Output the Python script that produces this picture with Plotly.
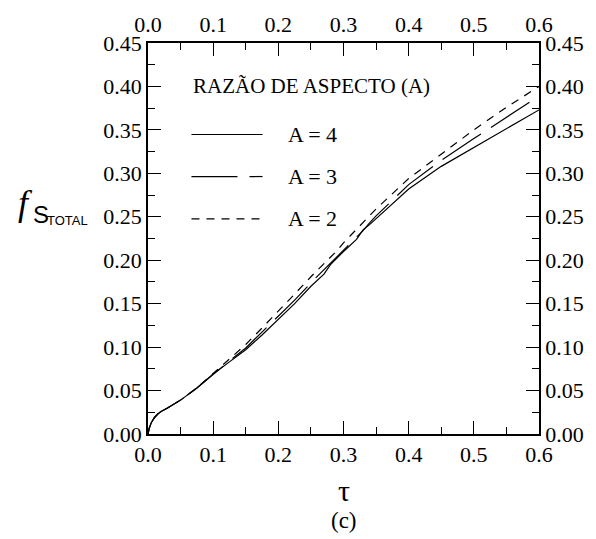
import plotly.graph_objects as go

tau = [0, 0.002, 0.005, 0.01, 0.015, 0.02, 0.03, 0.05, 0.075, 0.1, 0.125, 0.15,
       0.175, 0.2, 0.225, 0.25, 0.27, 0.28, 0.29, 0.3, 0.32, 0.33, 0.34, 0.35,
       0.4, 0.45, 0.5, 0.55, 0.6]

fs_a4 = [0, 0.007, 0.013, 0.019, 0.023, 0.026, 0.030, 0.039, 0.053, 0.069, 0.083, 0.097,
         0.114, 0.132, 0.150, 0.170, 0.184, 0.195, 0.203, 0.210, 0.224, 0.235, 0.241, 0.248,
         0.282, 0.308, 0.330, 0.352, 0.373]
fs_a3 = [0, 0.007, 0.013, 0.019, 0.023, 0.026, 0.030, 0.039, 0.053, 0.069, 0.084, 0.099,
         0.117, 0.135, 0.154, 0.174, 0.189, 0.196, 0.204, 0.212, 0.226, 0.234, 0.243, 0.251,
         0.287, 0.315, 0.340, 0.364, 0.389]
fs_a2 = [0, 0.007, 0.013, 0.019, 0.023, 0.026, 0.030, 0.039, 0.053, 0.070, 0.086, 0.103,
         0.122, 0.141, 0.161, 0.181, 0.196, 0.203, 0.211, 0.220, 0.236, 0.243, 0.251, 0.259,
         0.294, 0.322, 0.350, 0.376, 0.400]

series_names = ["A = 4", "A = 3", "A = 2"]
series_values = [fs_a4, fs_a3, fs_a2]
dashes = ["solid", "46px,12px", "8px,7px"]

x_ticks = [0.0, 0.1, 0.2, 0.3, 0.4, 0.5, 0.6]
x_ticklabels = ["0.0", "0.1", "0.2", "0.3", "0.4", "0.5", "0.6"]
y_ticks = [0.0, 0.05, 0.10, 0.15, 0.20, 0.25, 0.30, 0.35, 0.40, 0.45]
y_ticklabels = ["0.00", "0.05", "0.10", "0.15", "0.20", "0.25", "0.30", "0.35", "0.40", "0.45"]

legend_title = "RAZÃO DE ASPECTO (A)"

FONT = "Liberation Serif"
SANS = "Liberation Sans"

fig = go.Figure()
for name, vals, d in zip(series_names, series_values, dashes):
    fig.add_trace(go.Scatter(x=tau, y=vals, mode="lines", name=name,
                             line=dict(color="black", width=1.2, dash=d),
                             showlegend=False))
# empty trace to create the mirrored top/right axes
fig.add_trace(go.Scatter(x=[None], y=[None], xaxis="x2", yaxis="y2",
                         showlegend=False, hoverinfo="skip"))

common_x = dict(range=[0, 0.6], tickvals=x_ticks, ticktext=x_ticklabels,
                ticks="inside", ticklen=13, tickwidth=1.3, tickcolor="black",
                showline=True, linecolor="black", linewidth=1.6,
                showgrid=False, zeroline=False,
                tickfont=dict(family=FONT, size=22, color="black"),
                minor=dict(dtick=0.05, tick0=0, ticks="inside", ticklen=7,
                           tickwidth=1.3, tickcolor="black", showgrid=False))
common_y = dict(range=[0, 0.45], tickvals=y_ticks, ticktext=y_ticklabels,
                ticks="inside", ticklen=13, tickwidth=1.3, tickcolor="black",
                showline=True, linecolor="black", linewidth=1.6,
                showgrid=False, zeroline=False,
                tickfont=dict(family=FONT, size=22, color="black"),
                minor=dict(dtick=0.025, tick0=0, ticks="inside", ticklen=7,
                           tickwidth=1.3, tickcolor="black", showgrid=False))

fig.update_layout(
    width=596, height=539,
    margin=dict(l=148, r=52, t=38, b=105),
    paper_bgcolor="white", plot_bgcolor="white",
    font=dict(family=FONT, color="black"),
    xaxis=dict(**common_x, side="bottom"),
    xaxis2=dict(**common_x, side="top", overlaying="x", matches="x"),
    yaxis=dict(**common_y, side="left"),
    yaxis2=dict(**common_y, side="right", overlaying="y", matches="y"),
)

# legend drawn inside the plot
legend_rows_y = [0.3447, 0.2963, 0.2477]
for name, d, yy in zip(series_names, dashes, legend_rows_y):
    fig.add_shape(type="line", xref="x", yref="y", x0=0.0667, x1=0.1758, y0=yy, y1=yy,
                  line=dict(color="black", width=1.2, dash=d))
    fig.add_annotation(x=0.212, y=yy, xref="x", yref="y", text=name, showarrow=False,
                       xanchor="left", yanchor="middle",
                       font=dict(family=FONT, size=22, color="black"))
fig.add_annotation(x=0.0667, y=0.400, xref="x", yref="y", text=legend_title, showarrow=False,
                   xanchor="left", yanchor="middle",
                   font=dict(family=FONT, size=21, color="black"))


def px_to_paper(px, py):
    return (px - 148) / 396, (434 - py) / 396


# y-axis title f_S_TOTAL
fx, fy = px_to_paper(24, 200)
fig.add_annotation(x=fx, y=fy, xref="paper", yref="paper", text="<i>f</i>", showarrow=False,
                   xanchor="center", yanchor="middle",
                   font=dict(family=FONT, size=36, color="black"))
sx, sy = px_to_paper(29, 212)
fig.add_annotation(x=sx, y=sy, xref="paper", yref="paper", text="S", showarrow=False,
                   xanchor="left", yanchor="middle",
                   font=dict(family=SANS, size=24, color="black"))
tx, ty = px_to_paper(44, 218)
fig.add_annotation(x=tx, y=ty, xref="paper", yref="paper", text="TOTAL", showarrow=False,
                   xanchor="left", yanchor="middle",
                   font=dict(family=SANS, size=13, color="black"))

# x-axis title and caption
cx, cy = px_to_paper(346, 491)
fig.add_annotation(x=cx, y=cy, xref="paper", yref="paper", text="τ", showarrow=False,
                   xanchor="center", yanchor="middle",
                   font=dict(family=FONT, size=30, color="black"))
cx, cy = px_to_paper(346, 522)
fig.add_annotation(x=cx, y=cy, xref="paper", yref="paper", text="(c)", showarrow=False,
                   xanchor="center", yanchor="middle",
                   font=dict(family=FONT, size=23, color="black"))

fig.write_html("out.html")
